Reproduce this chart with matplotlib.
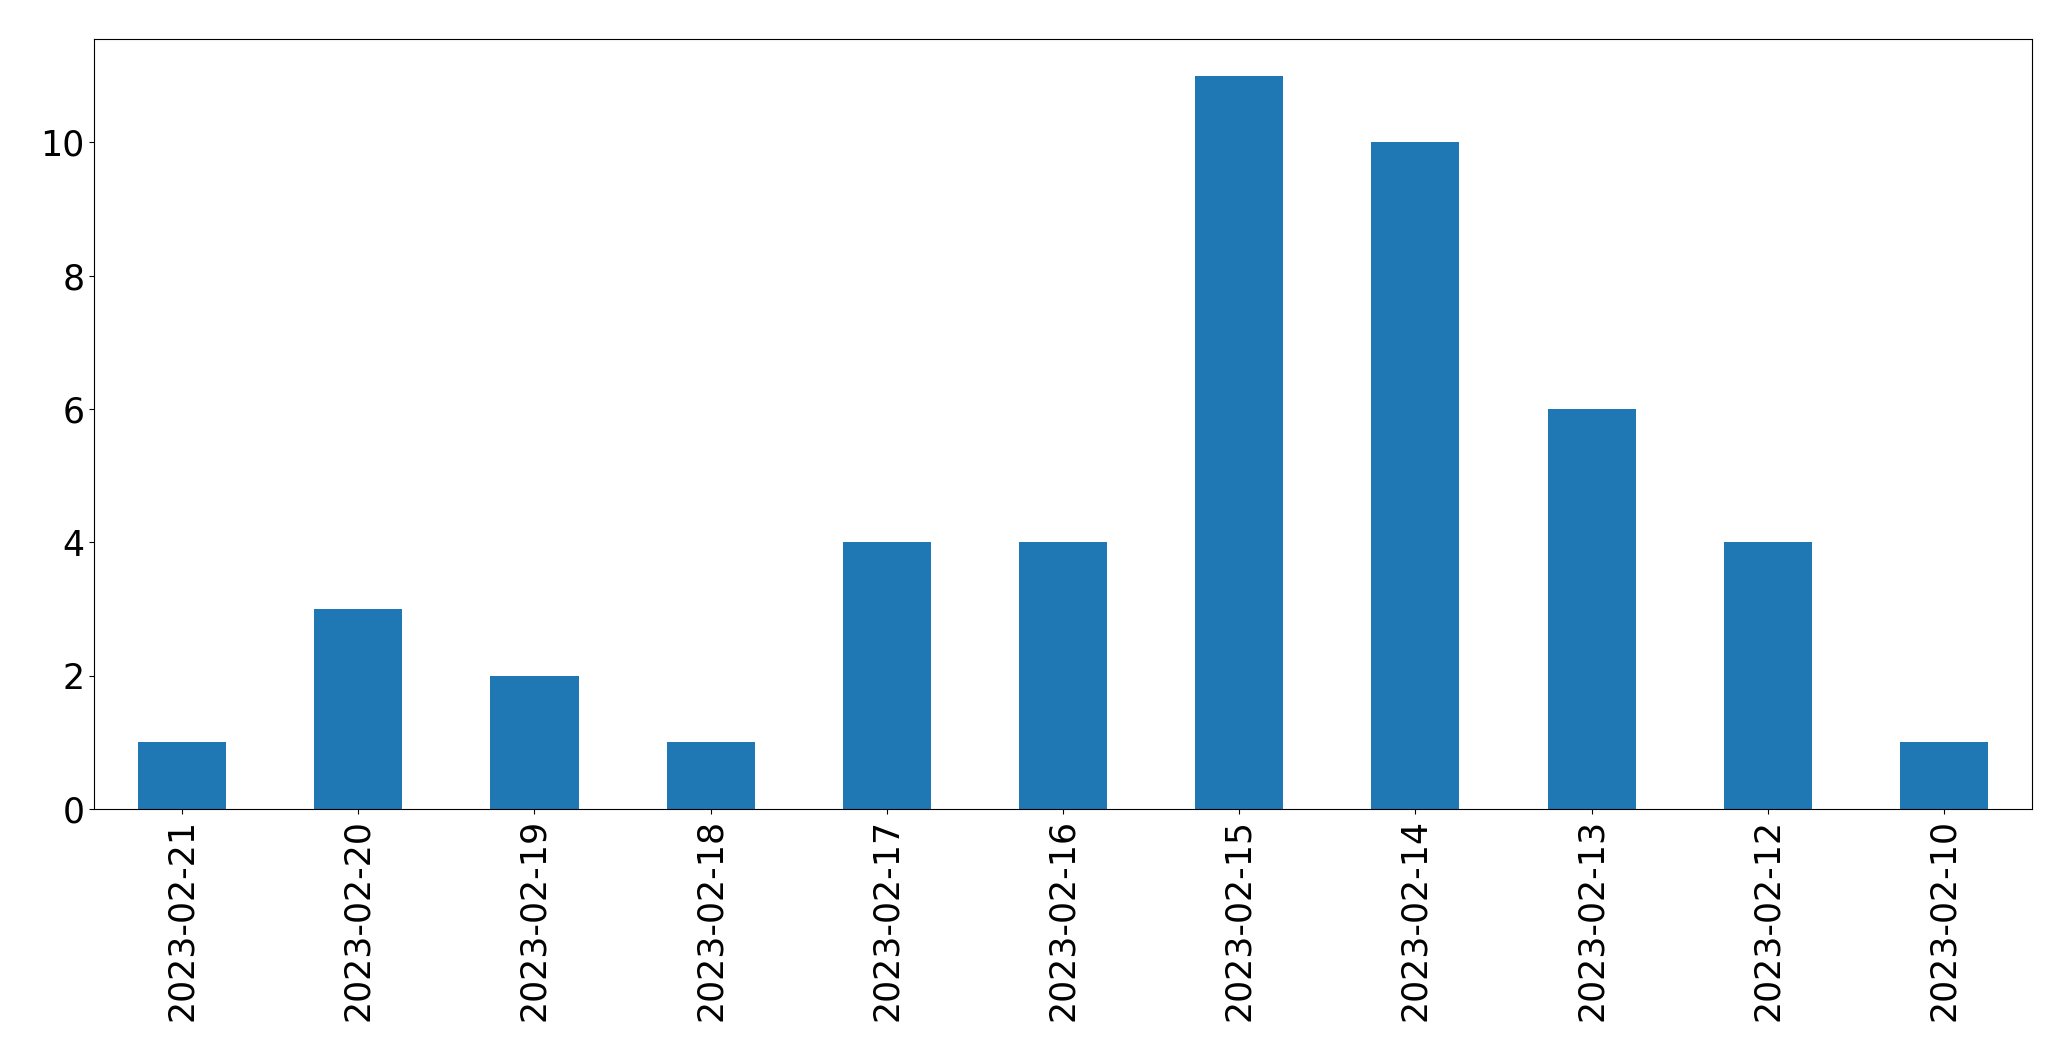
import matplotlib
matplotlib.use("Agg")
import matplotlib.pyplot as plt
import pandas as pd

dates = ["2023-02-21", "2023-02-20", "2023-02-19", "2023-02-18", "2023-02-17",
         "2023-02-16", "2023-02-15", "2023-02-14", "2023-02-13", "2023-02-12",
         "2023-02-10"]
counts = [1, 3, 2, 1, 4, 4, 11, 10, 6, 4, 1]

series = pd.Series(counts, index=dates)

fig, ax = plt.subplots(figsize=(20.71, 10.61), dpi=100)
series.plot(kind="bar", ax=ax, color="#1f77b4", fontsize=25)
fig.subplots_adjust(left=0.0454, right=0.9812, top=0.9632, bottom=0.2375)

fig.savefig("out.png", dpi=100)
